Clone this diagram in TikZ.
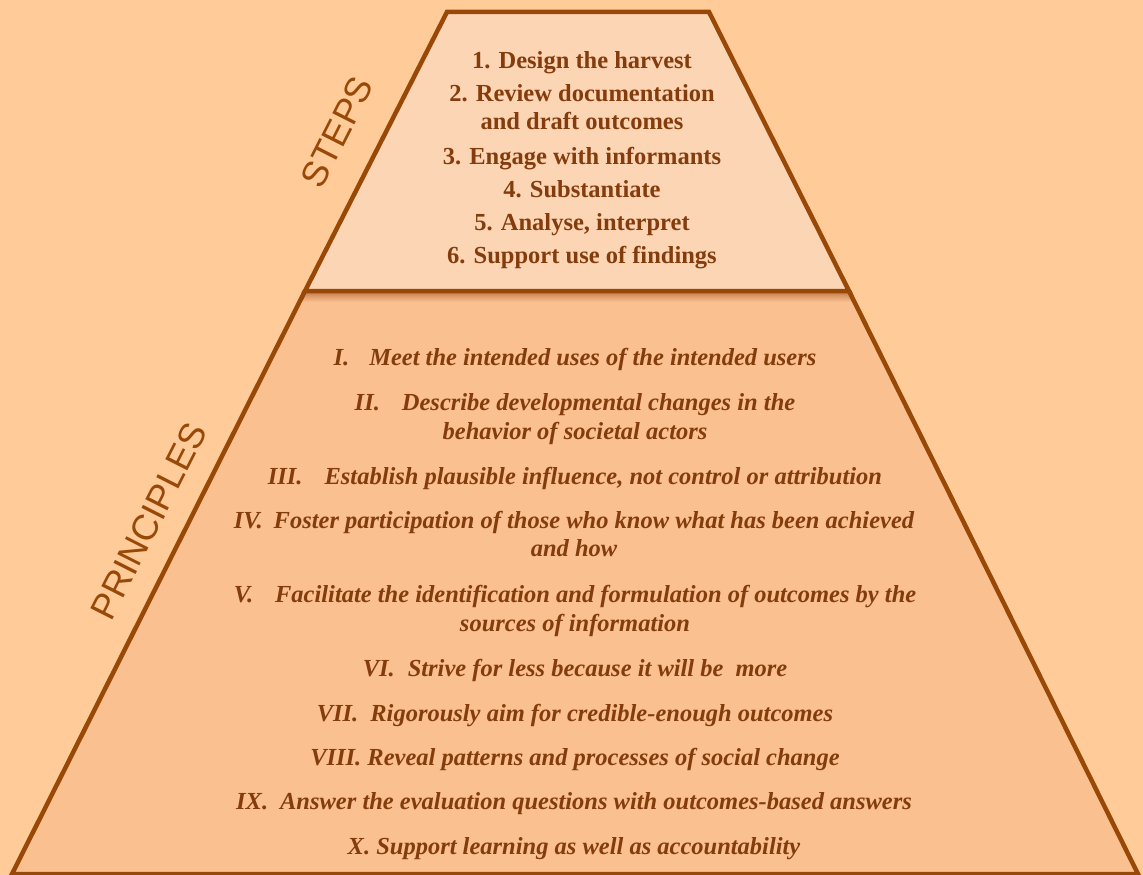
\documentclass[tikz,border=0pt]{standalone}
\usepackage{fontspec}
\setmainfont{Liberation Serif}
\newfontfamily\lsans{Liberation Sans}
\definecolor{bg}{HTML}{FFCC99}
\definecolor{sfill}{HTML}{FCD5B5}
\definecolor{pfill}{HTML}{FAC090}
\definecolor{edgec}{HTML}{984807}
\definecolor{txtc}{HTML}{843C0C}
\definecolor{shadowc}{HTML}{C98050}
\begin{document}
\begin{tikzpicture}[x=1pt,y=-1pt,
  edge/.style={draw=edgec,line width=4.5pt,line join=miter},
  steptxt/.style={anchor=base,text=txtc,font=\fontsize{24.5}{28}\selectfont\bfseries,inner sep=0pt},
  printxt/.style={anchor=base,text=txtc,font=\fontsize{24.5}{28}\selectfont\bfseries\itshape,inner sep=0pt},
  sidelabel/.style={text=edgec,font=\fontsize{36}{40}\selectfont\lsans,rotate=63.1,inner sep=0pt}]
\useasboundingbox (0,0) rectangle (1143,875);
\fill[bg] (0,0) rectangle (1143,875);
\coordinate (A) at (447,12);
\coordinate (B) at (709,12);
\coordinate (C) at (849,291);
\coordinate (D) at (305,291);
\coordinate (E) at (1138,874);
\coordinate (F) at (12,874);
\fill[pfill] (D)--(C)--(E)--(F)--cycle;
\begin{scope}
  \clip (D)--(C)--(E)--(F)--cycle;
  \shade[top color=shadowc,bottom color=pfill] (290,292) rectangle (870,302);
\end{scope}
\fill[sfill] (A)--(B)--(C)--(D)--cycle;
\draw[edge] (D)--(F)--(E)--(C);
\draw[edge] (A)--(B)--(C)--(D)--cycle;
% side labels
\node[sidelabel] (steps) at (337,132) {STEPS};
\node[sidelabel] (principles) at (149,521) {PRINCIPLES};
% steps
\node[steptxt] (s1) at (582,68) {1. Design the harvest};
\node[steptxt] (s2a) at (582,101) {2. Review documentation};
\node[steptxt] (s2b) at (582,129) {and draft outcomes};
\node[steptxt] (s3) at (582,164) {3. Engage with informants};
\node[steptxt] (s4) at (582,197) {4. Substantiate};
\node[steptxt] (s5) at (582,230) {5. Analyse, interpret};
\node[steptxt] (s6) at (582,263) {6. Support use of findings};
% principles
\node[printxt] (p1) at (575,365) {I.\hspace{20pt}Meet the intended uses of the intended users};
\node[printxt] (p2a) at (575,410) {II.\hspace{22pt}Describe developmental changes in the};
\node[printxt] (p2b) at (575,439) {behavior of societal actors};
\node[printxt] (p3) at (575,484) {III.\hspace{22pt}Establish plausible influence, not control or attribution};
\node[printxt] (p4a) at (574,528) {IV.\hspace{11pt}Foster participation of those who know what has been achieved};
\node[printxt] (p4b) at (574,556) {and how};
\node[printxt] (p5a) at (575,602) {V.\hspace{22pt}Facilitate the identification and formulation of outcomes by the};
\node[printxt] (p5b) at (575,631) {sources of information};
\node[printxt] (p6) at (575,676) {VI.\hspace{13pt}Strive for less because it will be\hspace{12pt}more};
\node[printxt] (p7) at (575,721) {VII.\hspace{12pt}Rigorously aim for credible-enough outcomes};
\node[printxt] (p8) at (575,765) {VIII. Reveal patterns and processes of social change};
\node[printxt] (p9) at (574,809) {IX.\hspace{12pt}Answer the evaluation questions with outcomes-based answers};
\node[printxt] (p10) at (574,854) {X. Support learning as well as accountability};
\end{tikzpicture}
\end{document}
